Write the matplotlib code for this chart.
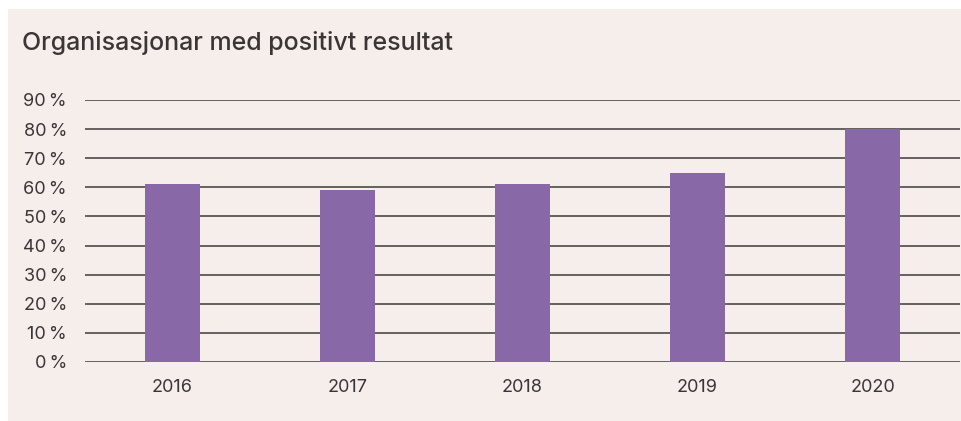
import matplotlib
matplotlib.use("Agg")
import matplotlib.pyplot as plt
from matplotlib.patches import Rectangle

years = ["2016", "2017", "2018", "2019", "2020"]
share = [61, 59, 61, 65, 80]
yticks = [0, 10, 20, 30, 40, 50, 60, 70, 80, 90]
ytick_labels = [f"{v}\u2009%" for v in yticks]

PANEL = "#f5eeeb"
BAR = "#8968a8"
TEXT = "#3b3636"
GRID = "#5a5656"

plt.rcParams['font.family'] = ['Inter', 'DejaVu Sans']

fig = plt.figure(figsize=(9.62, 4.21), dpi=100)
fig.patch.set_facecolor("white")
# pink card behind the chart
fig.patches.append(Rectangle((8 / 962, 0), 1 - 8 / 962, 1 - 9 / 421,
                             transform=fig.transFigure, facecolor=PANEL,
                             edgecolor="none", zorder=-10))

ax = fig.add_axes([85 / 962, 59 / 421, 875 / 962, 262 / 421])
ax.set_facecolor("none")

x = range(len(years))
ax.bar(x, share, width=0.315, color=BAR, zorder=3)

ax.set_xlim(-0.5, len(years) - 0.5)
ax.set_ylim(0, 90)
ax.set_yticks(yticks)
ax.set_yticklabels(ytick_labels)
ax.set_xticks(list(x))
ax.set_xticklabels(years)
ax.yaxis.grid(True, color=GRID, linewidth=1.3, zorder=1)
ax.tick_params(axis="both", length=0, labelsize=13, colors=TEXT)
ax.tick_params(axis="y", pad=13)
ax.tick_params(axis="x", pad=12)
for s in ax.spines.values():
    s.set_visible(False)

fig.text(22 / 962, 1 - 43 / 421, "Organisasjonar med positivt resultat",
         fontsize=18, color=TEXT, fontweight="medium", va="center", ha="left")

fig.savefig("out.png", dpi=100, facecolor=fig.get_facecolor())
